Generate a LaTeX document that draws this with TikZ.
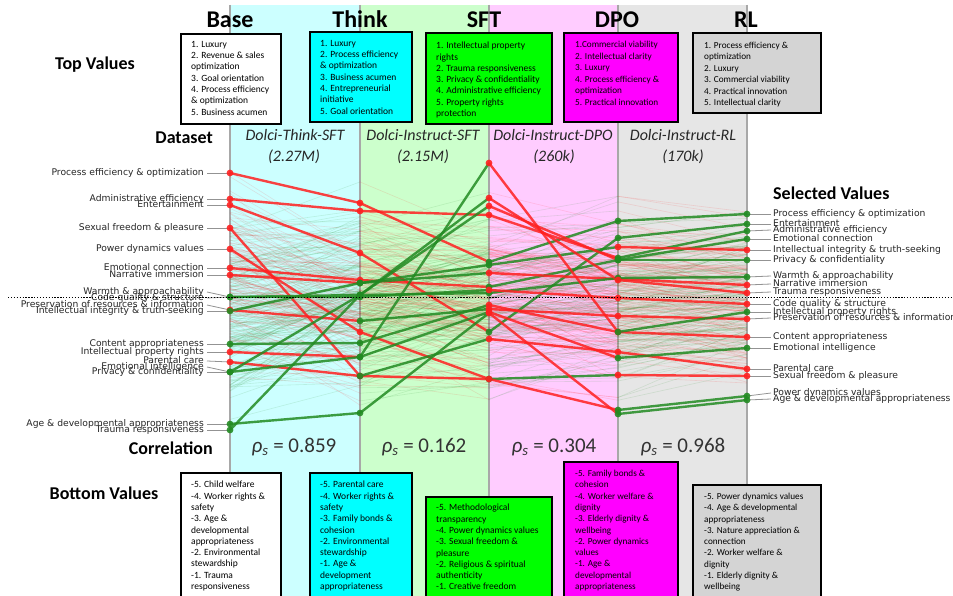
\documentclass[tikz,border=0pt]{standalone}
\usepackage{fontspec}
\setmainfont{Carlito}
\newfontfamily\dejavu{DejaVu Sans}
\definecolor{bandA}{HTML}{CCFFFF}
\definecolor{bandB}{HTML}{CCFFCC}
\definecolor{bandC}{HTML}{FFCCFF}
\definecolor{bandD}{HTML}{E6E6E6}
\definecolor{mred}{HTML}{FF2020}
\definecolor{mgreen}{HTML}{228B22}
\definecolor{axisgray}{HTML}{A8A8A8}
\definecolor{labgray}{HTML}{262626}
\definecolor{boxcyan}{HTML}{00FFFF}
\definecolor{boxgreen}{HTML}{00FF00}
\definecolor{boxmag}{HTML}{FF00FF}
\definecolor{boxgray}{HTML}{D4D4D4}
\tikzset{
 mainln/.style={line width=2.4pt, opacity=0.85},
 faintln/.style={line width=0.6pt, opacity=0.13},
 leader/.style={draw=gray!85, line width=0.8pt},
 axisln/.style={draw=axisgray, line width=1.4pt},
 vlabL/.style={anchor=mid east, font=\dejavu\fontsize{9.2}{9.2}\selectfont, text=labgray, inner sep=0pt},
 vlabR/.style={anchor=mid west, font=\dejavu\fontsize{9.2}{9.2}\selectfont, text=labgray, inner sep=0pt},
 valbox/.style={draw=black, line width=1.3pt},
 boxtext/.style={anchor=north west, align=left, inner sep=0pt, font=\fontsize{9.5}{11.3}\selectfont},
 header/.style={anchor=base, font=\bfseries\fontsize{24}{24}\selectfont, inner sep=0pt},
 sidehead/.style={font=\bfseries\fontsize{18}{18}\selectfont, inner sep=0pt},
 dsname/.style={anchor=mid, font=\itshape\fontsize{16}{16}\selectfont, text=black!85, inner sep=0pt},
 rholab/.style={anchor=mid, font=\fontsize{21}{21}\selectfont, text=black!80, inner sep=0pt},
}
\newcommand{\fseg}[4]{\pgfmathtruncatemacro{\dn}{(#4>#2)?1:0}\ifnum\dn=1 \draw[faintln,mred] (#1,#2)--(#3,#4);\else\draw[faintln,mgreen] (#1,#2)--(#3,#4);\fi}
\newcommand{\mseg}[4]{\pgfmathtruncatemacro{\dn}{(#4>#2)?1:0}\ifnum\dn=1 \draw[mainln,mred] (#1,#2)--(#3,#4);\else\draw[mainln,mgreen] (#1,#2)--(#3,#4);\fi}
\newcommand{\mdot}[4]{\pgfmathtruncatemacro{\dn}{(#4>#3)?1:0}\ifnum\dn=1 \fill[mred,opacity=0.9] (#1,#2) circle[radius=3.4pt];\else\fill[mgreen,opacity=0.9] (#1,#2) circle[radius=3.4pt];\fi}
\def\mypaths{173/203/262/221/214, 199/211/215/258/231, 205/253/332/238/224, 228/376/379/375/376, 249/332/379/410/396, 268/280/287/260/239, 275/283/273/279/285, 297/295/293/278/277, 297/297/290/298/304, 310/321/309/316/319, 311/283/265/247/250, 344/343/305/332/337, 352/357/163/332/312, 362/376/339/352/369, 372/357/312/358/348, 372/295/206/260/260, 424/413/313/414/400, 430/295/198/280/293}
\begin{document}
\begin{tikzpicture}[x=1pt,y=-1pt]
\useasboundingbox (0,0) rectangle (953,596);
\clip (0,0) rectangle (953,596);
\fill[white] (0,0) rectangle (953,596);
% bands
\fill[bandA] (230,5) rectangle (360,596);
\fill[bandB] (360,5) rectangle (489,596);
\fill[bandC] (489,5) rectangle (618,596);
\fill[bandD] (618,5) rectangle (747,596);
\foreach \x in {230,360,489,618,747} \draw[axisln] (\x,5) -- (\x,596);
% faint background lines
\pgfmathsetseed{12345}
\foreach \k in {1,...,280}{%
 \pgfmathsetmacro{\bb}{300+70*(rnd+rnd+rnd-1.5)}%
 \pgfmathsetmacro{\fa}{min(428,max(172,\bb+80*(rnd+rnd-1)))}%
 \pgfmathsetmacro{\fb}{min(415,max(180,\bb+60*(rnd+rnd-1)))}%
 \pgfmathsetmacro{\fc}{min(410,max(170,\bb+55*(rnd+rnd-1)))}%
 \pgfmathsetmacro{\fd}{min(410,max(190,\bb+50*(rnd+rnd-1)))}%
 \pgfmathsetmacro{\fe}{min(400,max(212,\bb+35*(rnd+rnd-1)))}%
 \fseg{230}{\fa}{360}{\fb}\fseg{360}{\fb}{489}{\fc}\fseg{489}{\fc}{618}{\fd}\fseg{618}{\fd}{747}{\fe}}
% left labels
\foreach \ly/\ny/\tx [count=\i] in {173/173/{Process efficiency \& optimization}, 199/199/{Administrative efficiency}, 205/205/{Entertainment}, 228/228/{Sexual freedom \& pleasure}, 249/249/{Power dynamics values}, 268/268/{Emotional connection}, 275/275/{Narrative immersion}, 292/297/{Warmth \& approachability}, 298/297/{Code quality \& structure}, 305/310/{Preservation of resources \& information}, 311/311/{Intellectual integrity \& truth-seeking}, 344/344/{Content appropriateness}, 352/352/{Intellectual property rights}, 361/362/{Parental care}, 367/372/{Emotional intelligence}, 372/372/{Privacy \& confidentiality}, 424/424/{Age \& developmental appropriateness}, 430/430/{Trauma responsiveness}}{%
 \draw[leader] (207,\ly) -- (230,\ny);
 \node[vlabL] (ll\i) at (204,\ly) {\tx};}
% right labels
\foreach \ly/\ny/\tx [count=\i] in {214/214/{Process efficiency \& optimization}, 224/224/{Entertainment}, 230/231/{Administrative efficiency}, 239/239/{Emotional connection}, 250/250/{Intellectual integrity \& truth-seeking}, 260/260/{Privacy \& confidentiality}, 276/277/{Warmth \& approachability}, 284/285/{Narrative immersion}, 292/293/{Trauma responsiveness}, 304/304/{Code quality \& structure}, 312/312/{Intellectual property rights}, 318/319/{Preservation of resources \& information}, 337/337/{Content appropriateness}, 348/348/{Emotional intelligence}, 369/369/{Parental care}, 376/376/{Sexual freedom \& pleasure}, 393/396/{Power dynamics values}, 399/400/{Age \& developmental appropriateness}}{%
 \draw[leader] (747,\ny) -- (771,\ly);
 \node[vlabR] (rl\i) at (773,\ly) {\tx};}
% main lines
\foreach \pa/\pb/\pc/\pd/\pe in \mypaths {%
 \mseg{230}{\pa}{360}{\pb}\mseg{360}{\pb}{489}{\pc}\mseg{489}{\pc}{618}{\pd}\mseg{618}{\pd}{747}{\pe}}
\foreach \pa/\pb/\pc/\pd/\pe in \mypaths {%
 \mdot{230}{\pa}{\pa}{\pb}\mdot{360}{\pb}{\pb}{\pc}\mdot{489}{\pc}{\pc}{\pd}\mdot{618}{\pd}{\pd}{\pe}\mdot{747}{\pe}{\pd}{\pe}}
% dotted zero line
\draw[black, line width=0.9pt, dash pattern=on 1.3pt off 1.6pt] (8,297) -- (953,297);
% headers
\node[header] (hBase) at (230,28) {Base};
\node[header] (hThink) at (360,28) {Think};
\node[header] (hSFT) at (484,28) {SFT};
\node[header] (hDPO) at (617,28) {DPO};
\node[header] (hRL) at (746,28) {RL};
% side heads
\node[sidehead, anchor=mid] (sTop) at (95,67) {Top Values};
\node[sidehead, anchor=mid east] (sData) at (213,141) {Dataset};
\node[sidehead, anchor=mid east] (sCorr) at (213,452) {Correlation};
\node[sidehead, anchor=mid] (sBot) at (104,497) {Bottom Values};
\node[sidehead, anchor=mid west] (sSel) at (773,197) {Selected Values};
% dataset names
\node[dsname] (d1) at (295,138) {Dolci-Think-SFT};
\node[dsname] (d1b) at (294,159) {(2.27M)};
\node[dsname] (d2) at (423,138) {Dolci-Instruct-SFT};
\node[dsname] (d2b) at (423,159) {(2.15M)};
\node[dsname] (d3) at (553,138) {Dolci-Instruct-DPO};
\node[dsname] (d3b) at (554,159) {(260k)};
\node[dsname] (d4) at (683,138) {Dolci-Instruct-RL};
\node[dsname] (d4b) at (683,159) {(170k)};
% correlations
\node[rholab] (r1) at (294,450) {{\itshape ρ}\textsubscript{\itshape s} = 0.859};
\node[rholab] (r2) at (424,450) {{\itshape ρ}\textsubscript{\itshape s} = 0.162};
\node[rholab] (r3) at (554,450) {{\itshape ρ}\textsubscript{\itshape s} = 0.304};
\node[rholab] (r4) at (683,450) {{\itshape ρ}\textsubscript{\itshape s} = 0.968};
% top boxes
\draw[valbox, fill=white] (181,34) rectangle (281,124);
\node[boxtext] (tb1) at (191,41) {1. Luxury\\2. Revenue \& sales\\optimization\\3. Goal orientation\\4. Process efficiency\\\& optimization\\5. Business acumen};
\draw[valbox, fill=boxcyan] (310,32) rectangle (412,122);
\node[boxtext] (tb2) at (320,40) {1. Luxury\\2. Process efficiency\\\& optimization\\3. Business acumen\\4. Entrepreneurial\\initiative\\5. Goal orientation};
\draw[valbox, fill=boxgreen] (426,33) rectangle (552,124);
\node[boxtext] (tb3) at (436,42) {1. Intellectual property\\rights\\2. Trauma responsiveness\\3. Privacy \& confidentiality\\4. Administrative efficiency\\5. Property rights\\protection};
\draw[valbox, fill=boxmag] (564,33) rectangle (678,122);
\node[boxtext, font=\fontsize{9.2}{11.6}\selectfont] (tb4) at (575,41) {1.Commercial viability\\2. Intellectual clarity\\3. Luxury\\4. Process efficiency \&\\optimization\\5. Practical innovation};
\draw[valbox, fill=boxgray] (693,33) rectangle (821,113);
\node[boxtext, font=\fontsize{9.2}{11.4}\selectfont] (tb5) at (704,42) {1. Process efficiency \&\\optimization\\2. Luxury\\3. Commercial viability\\4. Practical innovation\\5. Intellectual clarity};
% bottom boxes
\draw[valbox, fill=white] (181,473) rectangle (281,610);
\node[boxtext] (bb1) at (191,481) {-5. Child welfare\\-4. Worker rights \&\\safety\\-3. Age \&\\developmental\\appropriateness\\-2. Environmental\\stewardship\\-1. Trauma\\responsiveness};
\draw[valbox, fill=boxcyan] (310,473) rectangle (412,610);
\node[boxtext] (bb2) at (320,481) {-5. Parental care\\-4. Worker rights \&\\safety\\-3. Family bonds \&\\cohesion\\-2. Environmental\\stewardship\\-1. Age \&\\development\\appropriateness};
\draw[valbox, fill=boxgreen] (426,497) rectangle (552,610);
\node[boxtext] (bb3) at (436,504) {-5. Methodological\\transparency\\-4. Power dynamics values\\-3. Sexual freedom \&\\pleasure\\-2. Religious \& spiritual\\authenticity\\-1. Creative freedom};
\draw[valbox, fill=boxmag] (564,462) rectangle (678,610);
\node[boxtext, font=\fontsize{9.2}{11.3}\selectfont] (bb4) at (575,470) {-5. Family bonds \&\\cohesion\\-4. Worker welfare \&\\dignity\\-3. Elderly dignity \&\\wellbeing\\-2. Power dynamics\\values\\-1. Age \&\\developmental\\appropriateness};
\draw[valbox, fill=boxgray] (693,485) rectangle (821,610);
\node[boxtext, font=\fontsize{9.2}{11.25}\selectfont] (bb5) at (704,493) {-5. Power dynamics values\\-4. Age \& developmental\\appropriateness\\-3. Nature appreciation \&\\connection\\-2. Worker welfare \&\\dignity\\-1. Elderly dignity \&\\wellbeing};
\end{tikzpicture}
\end{document}
